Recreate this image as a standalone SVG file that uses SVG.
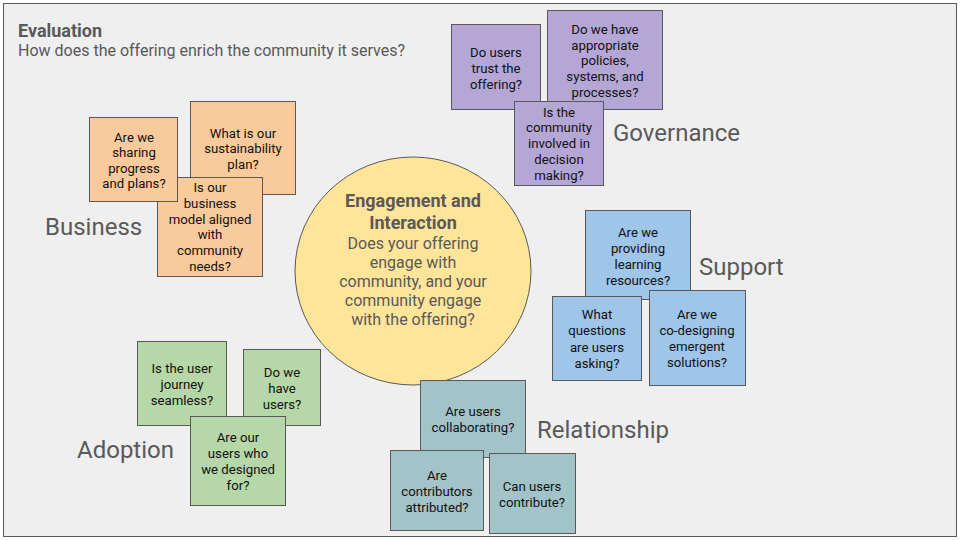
<svg xmlns="http://www.w3.org/2000/svg" width="960" height="540" viewBox="0 0 960 540">
<style>
.n{stroke:#595959;stroke-width:1}
.gov{fill:#b4a7d6}.bus{fill:#f9cb9c}.sup{fill:#9fc5e8}.ado{fill:#b6d7a8}.rel{fill:#a2c4c9}
.t{font-family:Roboto,"Liberation Sans",sans-serif;font-size:13.2px;fill:#111;text-anchor:middle}
.cat{font-family:Roboto,"Liberation Sans",sans-serif;font-size:24px;fill:#595959}
.c{font-family:Roboto,"Liberation Sans",sans-serif;font-size:16px;fill:#595959;text-anchor:middle}
.cb{font-size:18px;font-weight:bold}
</style>
<rect x="3.5" y="3.5" width="953" height="533" fill="#efefef" stroke="#595959" stroke-width="1"/>
<g id="title">
<text x="18" y="37" font-family="Roboto,'Liberation Sans',sans-serif" font-size="18" font-weight="bold" fill="#595959">Evaluation</text>
<text x="18" y="56" font-family="Roboto,'Liberation Sans',sans-serif" font-size="16" fill="#595959">How does the offering enrich the community it serves?</text>
</g>
<g id="connectors"></g>
<g id="center">
<ellipse cx="413" cy="271" rx="118" ry="114" fill="#ffe599" stroke="#595959"/>
<text class="c cb" x="413" y="207">Engagement and</text>
<text class="c cb" x="413" y="229">Interaction</text>
<text class="c" x="413" y="249">Does your offering</text>
<text class="c" x="413" y="268">engage with</text>
<text class="c" x="413" y="287">community, and your</text>
<text class="c" x="413" y="306">community engage</text>
<text class="c" x="413" y="325">with the offering?</text>
</g>
<g id="governance">
<rect class="n gov" x="451.5" y="24.5" width="89" height="85"/>
<text class="t" x="496" y="57">Do users</text><text class="t" x="496" y="73">trust the</text><text class="t" x="496" y="89">offering?</text>
<rect class="n gov" x="547.5" y="10.5" width="115" height="99"/>
<text class="t" x="605" y="34">Do we have</text><text class="t" x="605" y="50">appropriate</text><text class="t" x="605" y="65">policies,</text><text class="t" x="605" y="81">systems, and</text><text class="t" x="605" y="97">processes?</text>
<rect class="n gov" x="514.5" y="101.5" width="89" height="84"/>
<text class="t" x="559" y="117">Is the</text><text class="t" x="559" y="132">community</text><text class="t" x="559" y="148">involved in</text><text class="t" x="559" y="164">decision</text><text class="t" x="559" y="180">making?</text>
<text class="cat" x="613" y="141">Governance</text>
</g>
<g id="business">
<rect class="n bus" x="190.5" y="101.5" width="105" height="93"/>
<text class="t" x="243" y="138">What is our</text><text class="t" x="243" y="153">sustainability</text><text class="t" x="243" y="169">plan?</text>
<rect class="n bus" x="157.5" y="177.5" width="105" height="99"/>
<text class="t" x="210" y="192">Is our</text><text class="t" x="210" y="208">business</text><text class="t" x="210" y="224">model aligned</text><text class="t" x="210" y="239">with</text><text class="t" x="210" y="255">community</text><text class="t" x="210" y="271">needs?</text>
<rect class="n bus" x="89.5" y="117.5" width="88" height="84"/>
<text class="t" x="134" y="142">Are we</text><text class="t" x="134" y="157">sharing</text><text class="t" x="134" y="173">progress</text><text class="t" x="134" y="188">and plans?</text>
<text class="cat" x="45" y="235">Business</text>
</g>
<g id="support">
<rect class="n sup" x="585.5" y="210.5" width="105" height="89"/>
<text class="t" x="638" y="237">Are we</text><text class="t" x="638" y="253">providing</text><text class="t" x="638" y="269">learning</text><text class="t" x="638" y="285">resources?</text>
<rect class="n sup" x="552.5" y="296.5" width="89" height="84"/>
<text class="t" x="597" y="319">What</text><text class="t" x="597" y="335">questions</text><text class="t" x="597" y="352">are users</text><text class="t" x="597" y="368">asking?</text>
<rect class="n sup" x="649.5" y="290.5" width="96" height="95"/>
<text class="t" x="697" y="319">Are we</text><text class="t" x="697" y="335">co-designing</text><text class="t" x="697" y="351">emergent</text><text class="t" x="697" y="367">solutions?</text>
<text class="cat" x="699" y="275">Support</text>
</g>
<g id="adoption">
<rect class="n ado" x="137.5" y="341.5" width="89" height="84"/>
<text class="t" x="182" y="373">Is the user</text><text class="t" x="182" y="389">journey</text><text class="t" x="182" y="405">seamless?</text>
<rect class="n ado" x="243.5" y="349.5" width="77" height="76"/>
<text class="t" x="282" y="377">Do we</text><text class="t" x="282" y="393">have</text><text class="t" x="282" y="409">users?</text>
<rect class="n ado" x="190.5" y="416.5" width="95" height="89"/>
<text class="t" x="238" y="442">Are our</text><text class="t" x="238" y="458">users who</text><text class="t" x="238" y="474">we designed</text><text class="t" x="238" y="490">for?</text>
<text class="cat" x="77" y="458">Adoption</text>
</g>
<g id="relationship">
<rect class="n rel" x="420.5" y="380.5" width="105" height="77"/>
<text class="t" x="473" y="416">Are users</text><text class="t" x="473" y="432">collaborating?</text>
<rect class="n rel" x="390.5" y="450.5" width="93" height="80"/>
<text class="t" x="437" y="480">Are</text><text class="t" x="437" y="496">contributors</text><text class="t" x="437" y="512">attributed?</text>
<rect class="n rel" x="489.5" y="453.5" width="86" height="80"/>
<text class="t" x="532" y="491">Can users</text><text class="t" x="532" y="507">contribute?</text>
<text class="cat" x="537" y="438">Relationship</text>
</g>
</svg>
